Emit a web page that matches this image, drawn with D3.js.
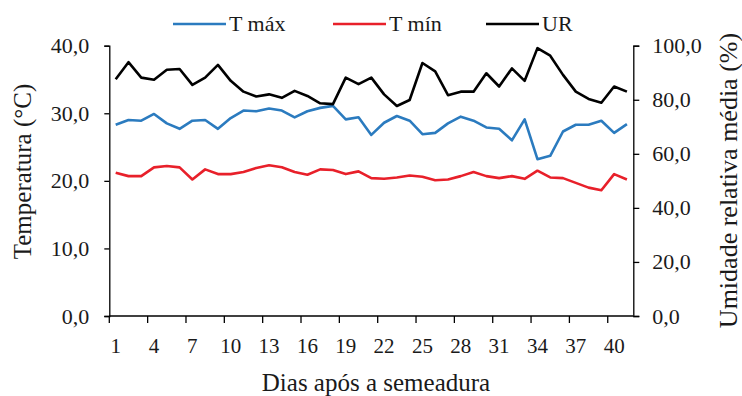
<!DOCTYPE html>
<html>
<head>
<meta charset="utf-8">
<script src="https://cdn.jsdelivr.net/npm/d3@7"></script>
<style>
  body { margin: 0; background: #fff; }
</style>
</head>
<body>
<div id="chart"></div>
<script>
// Days after sowing
const days = d3.range(1, 42);
const xTickLabels = [1, 4, 7, 10, 13, 16, 19, 22, 25, 28, 31, 34, 37, 40];

// Maximum temperature (°C)
const tMax = [28.3, 29.0, 28.9, 29.9, 28.5, 27.7, 28.9, 29.0, 27.7, 29.3,
              30.4, 30.3, 30.7, 30.4, 29.4, 30.3, 30.8, 31.1, 29.1, 29.4,
              26.8, 28.6, 29.6, 28.9, 26.9, 27.1, 28.5, 29.5, 28.9, 27.9,
              27.7, 26.0, 29.1, 23.2, 23.7, 27.3, 28.3, 28.3, 28.9, 27.1, 28.4];

// Minimum temperature (°C)
const tMin = [21.2, 20.7, 20.7, 22.0, 22.2, 22.0, 20.2, 21.7, 21.0, 21.0,
              21.3, 21.9, 22.3, 22.0, 21.3, 20.9, 21.7, 21.6, 21.0, 21.4,
              20.4, 20.3, 20.5, 20.8, 20.6, 20.1, 20.2, 20.7, 21.3, 20.7,
              20.4, 20.7, 20.3, 21.5, 20.5, 20.4, 19.7, 19.0, 18.6, 21.0, 20.2];

// Mean relative humidity (%)
const ur = [87.6, 93.9, 88.2, 87.4, 91.1, 91.4, 85.5, 88.2, 92.9, 87.0,
            83.0, 81.2, 82.0, 80.7, 83.3, 81.4, 78.7, 78.4, 88.2, 85.8,
            88.2, 82.0, 77.7, 79.9, 93.6, 90.5, 81.7, 83.0, 83.0, 89.8,
            84.9, 91.6, 87.0, 99.1, 96.3, 89.2, 83.0, 80.3, 78.9, 84.9, 83.0];

const leftTicks = [0, 10, 20, 30, 40];
const rightTicks = [0, 20, 40, 60, 80, 100];

const W = 742, H = 396;
const plot = { left: 109.3, right: 633.3, top: 45.7, bottom: 316 };
const serif = "Liberation Serif, Times New Roman, Tinos, Noto Serif, DejaVu Serif, Nimbus Roman, FreeSerif, Times, serif";

const svg = d3.select("#chart").append("svg")
    .attr("width", W)
    .attr("height", H);

const x = d3.scaleBand()
    .domain(days)
    .range([plot.left, plot.right])
    .padding(0);

const yT = d3.scaleLinear().domain([0, 40]).range([plot.bottom, plot.top]);
const yU = d3.scaleLinear().domain([0, 100]).range([plot.bottom, plot.top]);

const fmt = d => d3.format(".1f")(d).replace(".", ",");
const cx = d => x(d) + x.bandwidth() / 2;

// Left axis
const leftAxis = svg.append("g")
    .attr("transform", "translate(" + plot.left + ",0)")
    .call(d3.axisLeft(yT).tickValues(leftTicks).tickFormat(fmt).tickSize(5).tickPadding(15));

// Right axis
const rightAxis = svg.append("g")
    .attr("transform", "translate(" + plot.right + ",0)")
    .call(d3.axisRight(yU).tickValues(rightTicks).tickFormat(fmt).tickSize(6).tickPadding(13));

[leftAxis, rightAxis].forEach(g => {
    g.attr("font-family", serif).attr("font-size", null);
    g.select(".domain").attr("stroke", "#000").attr("stroke-width", 1.3);
    g.selectAll(".tick line").attr("stroke", "#000").attr("stroke-width", 1.3);
    g.selectAll(".tick text")
        .attr("font-size", "22px")
        .attr("fill", "#1a1a1a");
});

// X axis: line, tick marks between categories every 3 days
const xAxisG = svg.append("g");
xAxisG.append("line")
    .attr("x1", plot.left).attr("x2", plot.right)
    .attr("y1", plot.bottom).attr("y2", plot.bottom)
    .attr("stroke", "#000").attr("stroke-width", 1.3);

xAxisG.selectAll(".xtick")
    .data(xTickLabels)
  .enter().append("line")
    .attr("class", "xtick")
    .attr("x1", d => x(d)).attr("x2", d => x(d))
    .attr("y1", plot.bottom).attr("y2", plot.bottom + 7)
    .attr("stroke", "#000").attr("stroke-width", 1.3);

xAxisG.selectAll(".xlabel")
    .data(xTickLabels)
  .enter().append("text")
    .attr("class", "xlabel")
    .attr("x", cx)
    .attr("y", 353)
    .attr("text-anchor", "middle")
    .attr("font-size", "21px")
    .text(d => d);

// Axis titles
svg.append("text")
    .attr("x", 376)
    .attr("y", 390.5)
    .attr("text-anchor", "middle")
    .attr("font-size", "25px")
    .text("Dias após a semeadura");

svg.append("text")
    .attr("transform", "translate(22,171.5) rotate(-90)")
    .attr("dy", "0.35em")
    .attr("text-anchor", "middle")
    .attr("font-size", "25px")
    .text("Temperatura (°C)");

svg.append("text")
    .attr("transform", "translate(728,180.5) rotate(-90)")
    .attr("dy", "0.35em")
    .attr("text-anchor", "middle")
    .attr("font-size", "26px")
    .text("Umidade relativa média (%)");

// Lines
const colors = { tmax: "#2b7bbf", tmin: "#e8202a", ur: "#000000" };

const lineT = d3.line()
    .x((d, i) => cx(days[i]))
    .y(d => yT(d));

const lineU = d3.line()
    .x((d, i) => cx(days[i]))
    .y(d => yU(d));

svg.append("path")
    .datum(tMin)
    .attr("fill", "none")
    .attr("stroke", colors.tmin)
    .attr("stroke-width", 2.6)
    .attr("stroke-linejoin", "round")
    .attr("d", lineT);

svg.append("path")
    .datum(tMax)
    .attr("fill", "none")
    .attr("stroke", colors.tmax)
    .attr("stroke-width", 2.6)
    .attr("stroke-linejoin", "round")
    .attr("d", lineT);

svg.append("path")
    .datum(ur)
    .attr("fill", "none")
    .attr("stroke", colors.ur)
    .attr("stroke-width", 2.6)
    .attr("stroke-linejoin", "round")
    .attr("d", lineU);

// Legend
const legendItems = [
    { label: "T máx", color: colors.tmax, x: 173 },
    { label: "T mín", color: colors.tmin, x: 333 },
    { label: "UR", color: colors.ur, x: 486 }
];

const legend = svg.append("g").attr("class", "legend");

legend.selectAll("line")
    .data(legendItems)
  .enter().append("line")
    .attr("x1", d => d.x).attr("x2", d => d.x + 53)
    .attr("y1", 24).attr("y2", 24)
    .attr("stroke", d => d.color)
    .attr("stroke-width", 2.6);

legend.selectAll("text")
    .data(legendItems)
  .enter().append("text")
    .attr("x", d => d.x + 56)
    .attr("y", 31)
    .attr("font-size", "22px")
    .text(d => d.label);

// Serif text everywhere, like the original
svg.selectAll("text")
    .attr("font-family", serif)
    .style("fill", "#1a1a1a");
</script>
</body>
</html>
